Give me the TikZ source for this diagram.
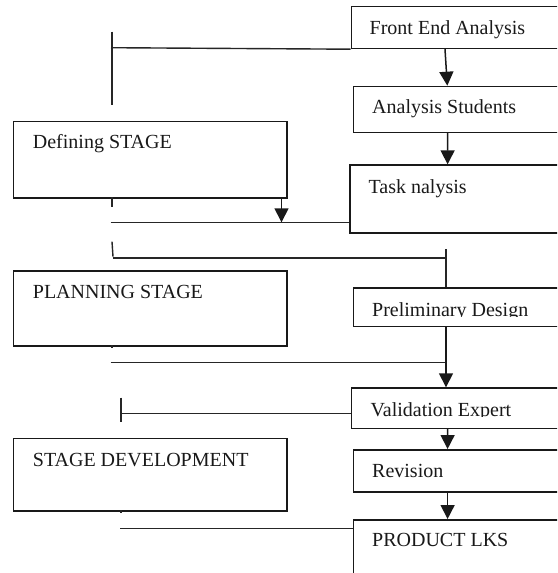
\documentclass[tikz,border=0pt]{standalone}
\usepackage{fontspec}
\setmainfont{Liberation Serif}
\usetikzlibrary{arrows.meta,calc}
\tikzset{
  box/.style={draw=black!90, line width=1.5pt, rectangle, inner sep=0pt, anchor=north west},
  lbl/.style={inner sep=0pt, anchor=base west, font=\fontsize{20}{24}\selectfont, text=black!90},
  ln/.style={draw=black!85, line width=1.4pt},
  arr/.style={draw=black!90, line width=1.5pt, -{Triangle[width=14pt,length=14pt]}},
}
\begin{document}
\begin{tikzpicture}[x=1pt,y=-1pt]
\clip (0,0) rectangle (557,573);
\fill[white] (0,0) rectangle (557,573);
% right column boxes (right edges run off the page)
\node[box, minimum width=260pt, minimum height=42pt] (fea) at (350.6,5.7) {};
\node[box, minimum width=260pt, minimum height=46pt] (as)  at (352.7,85.7) {};
\node[box, minimum width=260pt, minimum height=68pt] (ta)  at (349.0,164.3) {};
\node[box, minimum width=260pt, minimum height=38.4pt] (pd) at (352.7,287.3) {};
\node[box, minimum width=260pt, minimum height=40.4pt] (ve) at (350.6,387.3) {};
\node[box, minimum width=260pt, minimum height=42pt] (rv)  at (352.7,449.0) {};
\node[box, minimum width=260pt, minimum height=80pt] (pl)  at (352.7,519.0) {};
% left column boxes
\node[box, minimum width=273.2pt, minimum height=76.3pt] (def) at (12.8,120.7) {};
\node[box, minimum width=273.2pt, minimum height=75pt]   (pln) at (12.8,270.0) {};
\node[box, minimum width=273.2pt, minimum height=72.3pt] (dev) at (12.8,437.7) {};
% labels
\node[lbl] (feaT) at (369.5,34.2) {Front End Analysis};
\node[lbl] (asT)  at (372.0,113.4) {Analysis Students};
\node[lbl] (taT)  at (368.4,193.4) {Task nalysis};
\begin{scope}
  \clip (352,290) rectangle (557,316.3);
  \node[lbl] (pdT) at (372.0,316.3) {Preliminary Design};
\end{scope}
\begin{scope}
  \clip (351,390) rectangle (557,416.8);
  \node[lbl] (veT) at (370.5,416.0) {Validation Expert};
\end{scope}
\node[lbl] (rvT)  at (372.0,477.7) {Revision};
\node[lbl] (plT)  at (372.0,546.0) {PRODUCT LKS};
\node[lbl] (defT) at (32.7,148.4) {Defining STAGE};
\node[lbl] (plnT) at (32.7,298.4) {PLANNING STAGE};
\node[lbl] (devT) at (32.7,466.7) {STAGE DEVELOPMENT};
% free ends of connectors
\coordinate (c1) at (111,47.7);
\coordinate (t1a) at (112,31.7);
\coordinate (t1b) at (112,105);
\coordinate (t2a) at (112,197);
\coordinate (t2b) at (112,206.7);
\coordinate (c2) at (110.7,222.3);
\coordinate (t3a) at (112,241.7);
\coordinate (t3b) at (113,256.7);
\coordinate (c3) at (112.7,258);
\coordinate (t4a) at (112,345);
\coordinate (t4b) at (112,348);
\coordinate (c4) at (110.7,362.3);
\coordinate (t5a) at (121,397.7);
\coordinate (t5b) at (121,422.3);
\coordinate (c5) at (121,413.3);
\coordinate (t6a) at (121,510);
\coordinate (t6b) at (121,513);
\coordinate (c6) at (120,528.3);
% connectors
\draw[ln] (c1) -- (fea.south west);
\draw[ln] (t1a) -- (t1b);
\draw[arr] ([xshift=94.4pt]fea.south west) -- ([xshift=94.6pt]as.north west);
\draw[arr] ([xshift=94.9pt]as.south west) -- ([xshift=98.6pt]ta.north west);
\draw[ln] (t2a) -- (t2b);
\draw[arr] ([xshift=-6pt]def.south east) -- ([xshift=-6pt]def.south east |- c2);
\draw[ln] (c2) -- (ta.west |- c2);
\draw[ln] (t3a) -- (t3b);
\draw[ln] (c3) -- ([xshift=94.3pt]pd.north west |- c3);
\draw[ln] ([xshift=93.3pt,yshift=9pt]pd.north west |- c3) -- ([xshift=93.3pt]pd.north west);
\draw[ln] (t4a) -- (t4b);
\draw[ln] (c4) -- ([xshift=93.3pt]pd.north west |- c4);
\draw[arr] ([xshift=93.3pt]pd.south west) -- ([xshift=95.4pt]ve.north west);
\draw[ln] (c5) -- (ve.west |- c5);
\draw[ln] (t5a) -- (t5b);
\draw[arr] ([xshift=97pt]ve.south west) -- ([xshift=94.9pt]rv.north west);
\draw[ln] (t6a) -- (t6b);
\draw[arr] ([xshift=94.9pt]rv.south west) -- ([xshift=94.9pt]pl.north west);
\draw[ln] (c6) -- (pl.west |- c6);
\end{tikzpicture}
\end{document}
